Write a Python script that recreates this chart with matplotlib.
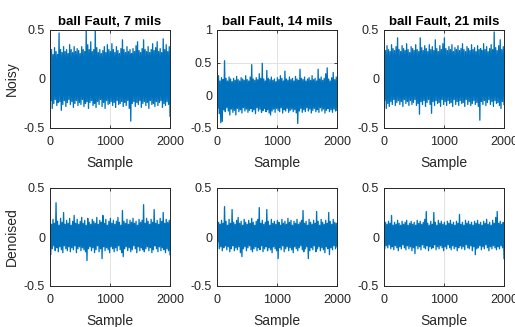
import matplotlib
matplotlib.use("Agg")
import matplotlib.pyplot as plt
import numpy as np

plt.rcParams['font.family'] = ['Liberation Sans', 'DejaVu Sans']

# envelope values (peaks / troughs), 80 of each per panel
n7_top = [0.50,0.30,0.25,0.32,0.28,0.25,0.47,0.30,0.27,0.33,
          0.28,0.30,0.26,0.35,0.30,0.27,0.33,0.28,0.31,0.29,
          0.26,0.33,0.30,0.28,0.50,0.35,0.30,0.38,0.28,0.30,
          0.50,0.32,0.27,0.30,0.26,0.29,0.33,0.27,0.35,0.30,
          0.28,0.36,0.30,0.27,0.33,0.29,0.26,0.31,0.40,0.30,
          0.27,0.33,0.28,0.30,0.26,0.31,0.28,0.34,0.38,0.29,
          0.27,0.31,0.40,0.30,0.28,0.33,0.27,0.30,0.36,0.29,
          0.32,0.38,0.28,0.31,0.27,0.41,0.30,0.35,0.28,0.33]
n7_bot = [-0.22,-0.30,-0.25,-0.21,-0.27,-0.24,-0.23,-0.32,-0.26,-0.22,
          -0.28,-0.24,-0.21,-0.26,-0.23,-0.29,-0.25,-0.22,-0.27,-0.24,
          -0.26,-0.21,-0.28,-0.25,-0.23,-0.30,-0.24,-0.22,-0.27,-0.25,
          -0.29,-0.23,-0.26,-0.21,-0.28,-0.24,-0.30,-0.22,-0.26,-0.25,
          -0.23,-0.27,-0.24,-0.29,-0.22,-0.26,-0.25,-0.23,-0.28,-0.24,
          -0.27,-0.22,-0.30,-0.43,-0.25,-0.23,-0.28,-0.24,-0.26,-0.22,
          -0.29,-0.25,-0.23,-0.27,-0.24,-0.30,-0.22,-0.26,-0.25,-0.28,
          -0.23,-0.27,-0.24,-0.22,-0.29,-0.25,-0.27,-0.23,-0.26,-0.38]

n14_top = [0.25,0.30,0.22,0.27,0.24,0.53,0.26,0.22,0.28,0.25,
           0.21,0.26,0.23,0.29,0.24,0.22,0.27,0.25,0.23,0.30,
           0.24,0.22,0.28,0.47,0.25,0.23,0.27,0.24,0.33,0.26,
           0.49,0.25,0.22,0.38,0.26,0.24,0.28,0.23,0.25,0.21,
           0.27,0.24,0.30,0.26,0.22,0.37,0.25,0.23,0.28,0.24,
           0.26,0.22,0.29,0.25,0.23,0.40,0.26,0.24,0.28,0.22,
           0.25,0.27,0.23,0.30,0.24,0.26,0.22,0.40,0.25,0.28,
           0.23,0.26,0.33,0.42,0.25,0.22,0.27,0.35,0.24,0.28]
n14_bot = [-0.20,-0.28,-0.42,-0.40,-0.22,-0.25,-0.19,-0.24,-0.30,-0.21,
           -0.26,-0.23,-0.30,-0.20,-0.25,-0.22,-0.27,-0.19,-0.24,-0.21,
           -0.26,-0.23,-0.20,-0.25,-0.22,-0.28,-0.19,-0.24,-0.21,-0.26,
           -0.23,-0.20,-0.25,-0.22,-0.27,-0.30,-0.24,-0.21,-0.26,-0.20,
           -0.23,-0.25,-0.19,-0.27,-0.22,-0.24,-0.20,-0.26,-0.23,-0.21,
           -0.25,-0.22,-0.27,-0.43,-0.24,-0.20,-0.26,-0.22,-0.25,-0.19,
           -0.24,-0.21,-0.27,-0.23,-0.20,-0.25,-0.22,-0.26,-0.19,-0.24,
           -0.21,-0.27,-0.23,-0.20,-0.25,-0.22,-0.26,-0.21,-0.24,-0.23]

n21_top = [0.32,0.29,0.34,0.30,0.28,0.35,0.31,0.29,0.33,0.42,
           0.30,0.28,0.34,0.31,0.29,0.36,0.30,0.27,0.33,0.31,
           0.29,0.35,0.30,0.28,0.42,0.32,0.29,0.34,0.31,0.28,
           0.35,0.30,0.33,0.29,0.40,0.31,0.28,0.34,0.30,0.36,
           0.42,0.31,0.29,0.33,0.30,0.35,0.28,0.32,0.30,0.34,
           0.29,0.31,0.36,0.30,0.28,0.33,0.31,0.29,0.35,0.30,
           0.32,0.28,0.34,0.30,0.31,0.29,0.36,0.30,0.33,0.28,
           0.31,0.35,0.30,0.48,0.32,0.29,0.34,0.40,0.30,0.33]
n21_bot = [-0.22,-0.30,-0.25,-0.28,-0.23,-0.26,-0.21,-0.27,-0.24,-0.22,
           -0.26,-0.23,-0.28,-0.21,-0.25,-0.23,-0.27,-0.22,-0.26,-0.24,
           -0.21,-0.27,-0.25,-0.36,-0.23,-0.26,-0.22,-0.28,-0.24,-0.21,
           -0.26,-0.35,-0.23,-0.27,-0.22,-0.25,-0.24,-0.28,-0.21,-0.26,
           -0.23,-0.27,-0.22,-0.25,-0.24,-0.28,-0.21,-0.26,-0.23,-0.27,
           -0.22,-0.25,-0.24,-0.28,-0.21,-0.26,-0.23,-0.27,-0.25,-0.22,
           -0.26,-0.24,-0.28,-0.42,-0.23,-0.26,-0.22,-0.27,-0.24,-0.21,
           -0.26,-0.23,-0.28,-0.22,-0.25,-0.24,-0.27,-0.30,-0.23,-0.26]

d7_top = [0.15,0.13,0.18,0.14,0.35,0.16,0.12,0.19,0.15,0.25,
          0.13,0.17,0.14,0.19,0.12,0.16,0.22,0.14,0.18,0.13,
          0.16,0.20,0.14,0.17,0.12,0.19,0.15,0.13,0.18,0.16,
          0.14,0.20,0.13,0.17,0.15,0.22,0.14,0.18,0.12,0.16,
          0.19,0.14,0.17,0.13,0.16,0.20,0.15,0.12,0.27,0.16,
          0.14,0.18,0.13,0.17,0.15,0.19,0.14,0.16,0.12,0.18,
          0.15,0.17,0.33,0.14,0.19,0.16,0.13,0.18,0.15,0.28,
          0.14,0.17,0.13,0.19,0.16,0.25,0.14,0.18,0.15,0.17]
d7_bot = [-0.18,-0.12,-0.09,-0.14,-0.11,-0.15,-0.10,-0.13,-0.16,-0.09,
          -0.12,-0.14,-0.10,-0.15,-0.11,-0.13,-0.09,-0.16,-0.12,-0.10,
          -0.14,-0.11,-0.13,-0.15,-0.24,-0.12,-0.10,-0.14,-0.11,-0.16,
          -0.13,-0.09,-0.15,-0.12,-0.22,-0.10,-0.14,-0.11,-0.13,-0.16,
          -0.10,-0.12,-0.15,-0.11,-0.14,-0.09,-0.13,-0.16,-0.20,-0.12,
          -0.10,-0.14,-0.11,-0.15,-0.13,-0.09,-0.12,-0.16,-0.10,-0.14,
          -0.11,-0.13,-0.15,-0.12,-0.10,-0.14,-0.11,-0.16,-0.13,-0.09,
          -0.12,-0.15,-0.10,-0.14,-0.11,-0.13,-0.16,-0.12,-0.14,-0.18]

d14_top = [0.12,0.15,0.13,0.17,0.14,0.31,0.16,0.12,0.18,0.14,
           0.28,0.15,0.13,0.17,0.20,0.14,0.16,0.12,0.18,0.15,
           0.13,0.17,0.14,0.19,0.15,0.12,0.16,0.18,0.30,0.14,
           0.17,0.13,0.15,0.28,0.16,0.12,0.18,0.14,0.16,0.13,
           0.17,0.15,0.12,0.18,0.14,0.16,0.13,0.19,0.15,0.17,
           0.12,0.16,0.14,0.18,0.13,0.15,0.17,0.27,0.14,0.16,
           0.12,0.18,0.15,0.13,0.17,0.14,0.26,0.16,0.12,0.18,
           0.15,0.13,0.17,0.14,0.25,0.16,0.13,0.18,0.15,0.14]
d14_bot = [-0.05,-0.12,-0.10,-0.14,-0.11,-0.09,-0.13,-0.10,-0.15,-0.12,
           -0.09,-0.14,-0.11,-0.13,-0.10,-0.16,-0.20,-0.12,-0.10,-0.14,
           -0.11,-0.09,-0.13,-0.15,-0.12,-0.10,-0.14,-0.11,-0.13,-0.09,
           -0.15,-0.12,-0.10,-0.14,-0.11,-0.13,-0.16,-0.10,-0.12,-0.14,
           -0.22,-0.11,-0.13,-0.09,-0.15,-0.12,-0.10,-0.14,-0.11,-0.13,
           -0.16,-0.10,-0.12,-0.14,-0.11,-0.09,-0.13,-0.15,-0.12,-0.10,
           -0.22,-0.14,-0.11,-0.13,-0.09,-0.15,-0.12,-0.10,-0.14,-0.11,
           -0.13,-0.16,-0.10,-0.12,-0.18,-0.11,-0.13,-0.09,-0.12,-0.10]

d21_top = [0.12,0.15,0.13,0.16,0.14,0.22,0.12,0.15,0.13,0.17,
           0.14,0.12,0.16,0.13,0.15,0.17,0.12,0.14,0.16,0.13,
           0.15,0.12,0.17,0.14,0.16,0.13,0.15,0.18,0.26,0.14,
           0.12,0.16,0.13,0.25,0.15,0.12,0.17,0.14,0.16,0.13,
           0.15,0.12,0.16,0.14,0.17,0.13,0.15,0.12,0.16,0.14,
           0.23,0.13,0.15,0.12,0.17,0.14,0.16,0.13,0.15,0.12,
           0.16,0.14,0.17,0.13,0.15,0.12,0.16,0.14,0.18,0.13,
           0.15,0.12,0.17,0.14,0.20,0.26,0.14,0.16,0.13,0.15]
d21_bot = [-0.12,-0.09,-0.11,-0.08,-0.12,-0.10,-0.13,-0.09,-0.11,-0.14,
           -0.10,-0.12,-0.08,-0.11,-0.13,-0.09,-0.12,-0.10,-0.14,-0.11,
           -0.17,-0.09,-0.12,-0.10,-0.13,-0.08,-0.11,-0.12,-0.09,-0.14,
           -0.10,-0.12,-0.11,-0.08,-0.13,-0.10,-0.12,-0.09,-0.11,-0.14,
           -0.10,-0.12,-0.08,-0.11,-0.13,-0.09,-0.12,-0.10,-0.14,-0.11,
           -0.09,-0.12,-0.10,-0.13,-0.08,-0.11,-0.12,-0.09,-0.14,-0.10,
           -0.18,-0.12,-0.11,-0.09,-0.13,-0.10,-0.12,-0.08,-0.11,-0.14,
           -0.10,-0.12,-0.09,-0.11,-0.13,-0.10,-0.12,-0.09,-0.11,-0.22]

titles = ["ball Fault, 7 mils", "ball Fault, 14 mils", "ball Fault, 21 mils"]
row_labels = ["Noisy", "Denoised"]

panels = [[(n7_top, n7_bot), (n14_top, n14_bot), (n21_top, n21_bot)],
          [(d7_top, d7_bot), (d14_top, d14_bot), (d21_top, d21_bot)]]

W, H = 515, 327
fig = plt.figure(figsize=(W / 100, H / 100), dpi=100)
lefts = [50, 217, 384]
tops = [30, 188]
aw, ah = 120, 98
dark = '#262626'

for r in range(2):
    for c in range(3):
        ax = fig.add_axes([lefts[c] / W, 1 - (tops[r] + ah) / H, aw / W, ah / H])
        top, bot = panels[r][c]
        y = np.empty(2 * len(top))
        y[0::2] = top
        y[1::2] = bot
        x = np.linspace(0, 2000, len(y))
        ax.plot(x, y, color='#0072BD', lw=0.95)
        ax.set_xlim(0, 2000)
        if r == 0 and c == 1:
            ax.set_ylim(-0.5, 1)
            ax.set_yticks([-0.5, 0, 0.5, 1])
            ax.set_yticklabels(['-0.5', '0', '0.5', '1'])
        else:
            ax.set_ylim(-0.5, 0.5)
            ax.set_yticks([-0.5, 0, 0.5])
            ax.set_yticklabels(['-0.5', '0', '0.5'])
        ax.set_xticks([0, 1000, 2000])
        ax.grid(True, color='#dcdcdc', lw=0.6)
        ax.set_axisbelow(True)
        ax.tick_params(direction='in', length=2.5, width=0.6, labelsize=9,
                       colors=dark, top=True, right=True)
        ax.tick_params(axis='x', pad=6)
        ax.tick_params(axis='y', pad=3.5)
        for s in ax.spines.values():
            s.set_color(dark)
            s.set_linewidth(0.7)
        ax.set_xlabel("Sample", fontsize=10, color=dark, labelpad=5.5)
        if r == 0:
            ax.set_title(titles[c], fontsize=9.5, fontweight='bold', pad=3.5)
        if c == 0:
            ax.set_ylabel(row_labels[r], fontsize=10, color=dark, labelpad=3.5)

fig.savefig("out.png", dpi=100)
